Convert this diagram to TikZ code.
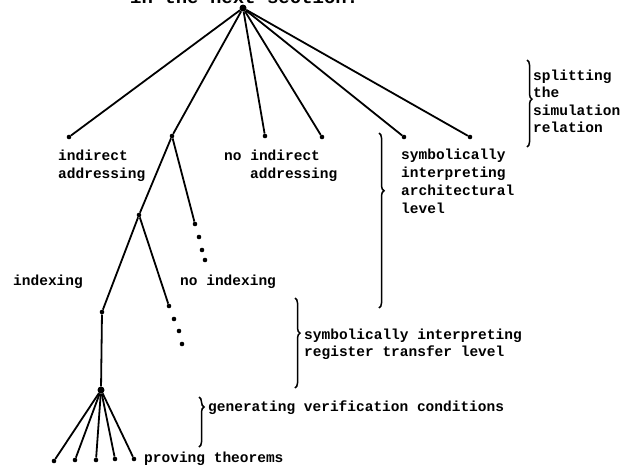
\documentclass[tikz,border=0pt]{standalone}
\usepackage{fontspec}
\setmonofont{Liberation Mono}
\usetikzlibrary{decorations.pathreplacing}

\begin{document}
\begin{tikzpicture}[x=1pt,y=-1pt,
  dot/.style={circle,fill,inner sep=0pt,minimum size=4.6pt},
  bigdot/.style={circle,fill,inner sep=0pt,minimum size=7pt},
  branch/.style={line width=1.8pt},
  lbl/.style={anchor=base west,inner sep=0pt,
    font=\ttfamily\bfseries\fontsize{14.5}{18}\selectfont},
  bodytext/.style={anchor=base west,inner sep=0pt,
    font=\ttfamily\bfseries\fontsize{19}{22}\selectfont},
  brc/.style={decorate,decoration={brace,amplitude=5pt,aspect=#1},line width=1.5pt}]

\useasboundingbox (0,0) rectangle (623,466);
\begin{scope}
\clip (0,0) rectangle (623,466);
\node[bodytext] (prev) at (130,3) {in the next section.};
\end{scope}

% root and first-level choices
\node[bigdot] (root) at (243,8) {};
\node[dot] (a1) at (69,137) {};
\node[dot] (a2) at (172,136) {};
\node[dot] (a3) at (265,136) {};
\node[dot] (a4) at (322,137) {};
\node[dot] (a5) at (404,137) {};
\node[dot] (a6) at (470,137) {};
\foreach \n in {a1,a2,a3,a4,a5,a6} \draw[branch] (root) -- (\n);

% indexing level
\node[dot] (b1) at (139,215) {};
\node[dot] (b2) at (195,224) {};
\node[dot] (b2x) at (199,237) {};
\node[dot] (b2y) at (202,250) {};
\node[dot] (b2z) at (205,260) {};
\draw[branch] (a2) -- (b1);
\draw[branch] (a2) -- (b2);

% register transfer level
\node[dot] (c1) at (102,312) {};
\node[dot] (c2) at (169,306) {};
\node[dot] (c2x) at (174,319) {};
\node[dot] (c2y) at (179,331) {};
\node[dot] (c2z) at (182,344) {};
\draw[branch] (b1) -- (c1);
\draw[branch] (b1) -- (c2);

% verification conditions and theorems
\node[bigdot] (d) at (101,390) {};
\draw[branch] (c1) -- (d);
\node[dot] (t1) at (54,461) {};
\node[dot] (t2) at (75,460) {};
\node[dot] (t3) at (96,460) {};
\node[dot] (t4) at (115,459) {};
\node[dot] (t5) at (134,459) {};
\foreach \n in {t1,t2,t3,t4,t5} \draw[branch] (d) -- (\n);

% labels of the choices
\node[lbl] (l1a) at (58,160) {indirect};
\node[lbl] (l1b) at (58,178) {addressing};
\node[lbl] (l3a) at (224,160) {no indirect};
\node[lbl] (l3b) at (250,178) {addressing};
\node[lbl] (l5a) at (401,159) {symbolically};
\node[lbl] (l5b) at (401,177) {interpreting};
\node[lbl] (l5c) at (401,195) {architectural};
\node[lbl] (l5d) at (401,213) {level};
\node[lbl] (ix) at (13,285) {indexing};
\node[lbl] (nix) at (180,285) {no indexing};

% phases, each marked by a brace
\draw[brc=0.45] (527,60) -- (527,147);
\node[lbl] (s1) at (533,80) {splitting};
\node[lbl] (s2) at (533,97) {the};
\node[lbl] (s3) at (533,115) {simulation};
\node[lbl] (s4) at (533,132) {relation};

\draw[brc=0.33] (379,133) -- (379,308);

\draw[brc=0.39] (295,298) -- (295,388);
\node[lbl] (r1) at (304,339) {symbolically interpreting};
\node[lbl] (r2) at (304,356) {register transfer level};

\draw[brc=0.2] (199,397) -- (199,447);
\node[lbl] (g) at (208,411) {generating verification conditions};

\node[lbl] (p) at (144,462) {proving theorems};
\end{tikzpicture}
\end{document}
